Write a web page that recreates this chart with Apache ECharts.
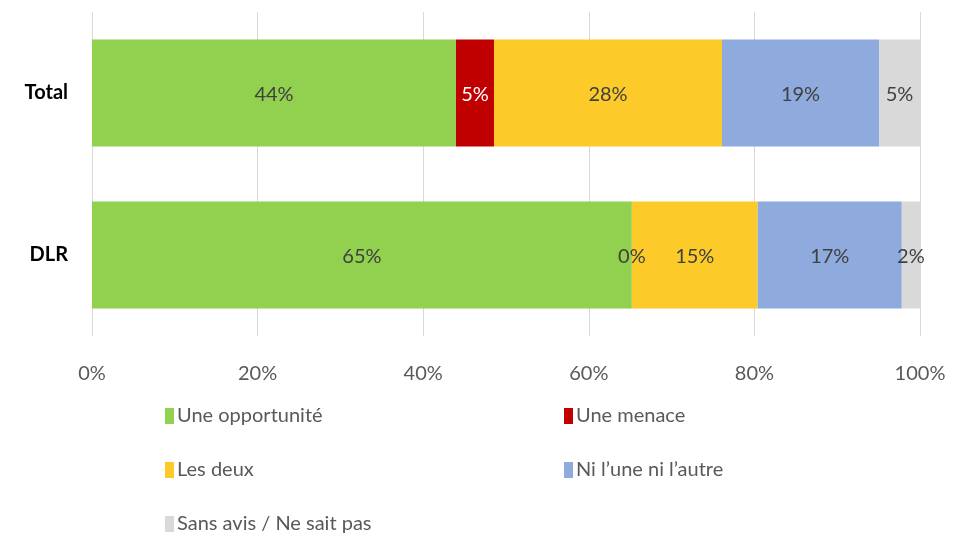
<!DOCTYPE html>
<html>
<head>
<meta charset="utf-8">
<script src="https://cdn.jsdelivr.net/npm/echarts@6/dist/echarts.min.js"></script>
<style>
  html, body { margin: 0; padding: 0; background: #fff; }
  #chart { width: 955px; height: 537px; }
</style>
</head>
<body>
<div id="chart"></div>
<script>
// categories, top to bottom
const categories = ['Total', 'DLR'];
const seriesNames = ['Une opportunité', 'Une menace', 'Les deux', 'Ni l’une ni l’autre', 'Sans avis / Ne sait pas'];
const colors = ['#92D050', '#C00000', '#FCCB2A', '#8FAADC', '#D9D9D9'];

// shares in %, [Total, DLR]
const opportunite = [43.96, 65.2];
const menace = [4.59, 0];
const lesDeux = [27.54, 15.2];
const niNi = [18.96, 17.4];
const sansAvis = [4.95, 2.2];

const xTicks = [0, 20, 40, 60, 80, 100];

const values = [opportunite, menace, lesDeux, niNi, sansAvis];
const font = 'Lato, "Open Sans", sans-serif';

const chart = echarts.init(document.getElementById('chart'));

const series = seriesNames.map((name, i) => ({
  name: name,
  type: 'bar',
  stack: 'total',
  barWidth: '66%',
  itemStyle: { color: colors[i] },
  label: {
    show: true,
    position: 'inside',
    offset: [0, 2],
    fontFamily: font,
    fontSize: 20,
    color: '#404040',
    formatter: p => Math.round(p.value) + '%'
  },
  // white text on the dark red segment, dark when the segment is empty
  data: values[i].map(v => (i === 1 && v > 0) ? { value: v, label: { color: '#ffffff' } } : v)
}));

// legend positions: two columns
const legendPos = [[160, 401], [559, 401], [160, 455], [559, 455], [160, 509]];
const legends = seriesNames.map((name, i) => ({
  data: [name],
  left: legendPos[i][0],
  top: legendPos[i][1],
  itemWidth: 9,
  itemHeight: 16,
  itemGap: 4,
  icon: 'rect',
  textStyle: { fontFamily: font, fontSize: 20, color: '#595959', padding: [0, 0, 0, -2] }
}));

chart.setOption({
  animation: false,
  grid: { left: 92, right: 35, top: 12, bottom: 201, containLabel: false },
  legend: legends,
  xAxis: {
    type: 'value',
    min: 0,
    max: 100,
    interval: 20,
    axisLine: { show: false },
    axisTick: { show: false },
    splitLine: { lineStyle: { color: '#D9D9D9', width: 1 } },
    axisLabel: {
      margin: 28,
      fontFamily: font,
      fontSize: 20,
      color: '#595959',
      formatter: v => xTicks.includes(v) ? v + '%' : ''
    }
  },
  yAxis: {
    type: 'category',
    inverse: true,
    data: categories,
    axisLine: { show: false },
    axisTick: { show: false },
    axisLabel: {
      margin: 24,
      fontFamily: font,
      fontSize: 20,
      fontWeight: 'bold',
      color: '#000000',
      padding: [8, 0, 0, 0]
    }
  },
  series: series
});
</script>
</body>
</html>
